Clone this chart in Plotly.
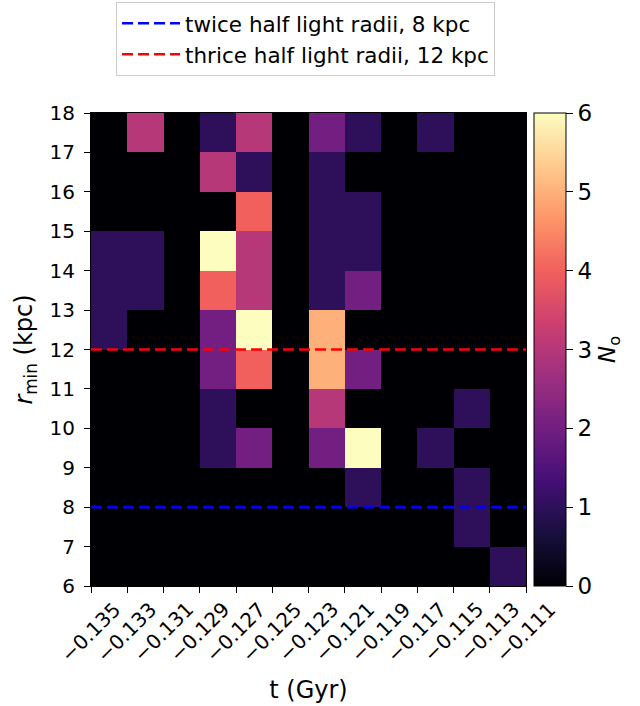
import plotly.graph_objects as go

# Bin edges of the 2D histogram
t_edges = [-0.135, -0.133, -0.131, -0.129, -0.127, -0.125, -0.123,
           -0.121, -0.119, -0.117, -0.115, -0.113, -0.111]
r_edges = [6, 7, 8, 9, 10, 11, 12, 13, 14, 15, 16, 17, 18]

# Tick labels for the time axis
t_ticklabels = ["−0.135", "−0.133", "−0.131", "−0.129", "−0.127", "−0.125",
                "−0.123", "−0.121", "−0.119", "−0.117", "−0.115", "−0.113",
                "−0.111"]
r_ticks = [6, 7, 8, 9, 10, 11, 12, 13, 14, 15, 16, 17, 18]
cbar_ticks = [0, 1, 2, 3, 4, 5, 6]

# Number of orbits per (t, r_min) bin; rows run from r_min = 6 upward
counts = [
    [0, 0, 0, 0, 0, 0, 0, 0, 0, 0, 0, 1],
    [0, 0, 0, 0, 0, 0, 0, 0, 0, 0, 1, 0],
    [0, 0, 0, 0, 0, 0, 0, 1, 0, 0, 1, 0],
    [0, 0, 0, 1, 2, 0, 2, 6, 0, 1, 0, 0],
    [0, 0, 0, 1, 0, 0, 3, 0, 0, 0, 1, 0],
    [0, 0, 0, 2, 4, 0, 5, 2, 0, 0, 0, 0],
    [1, 0, 0, 2, 6, 0, 5, 0, 0, 0, 0, 0],
    [1, 1, 0, 4, 3, 0, 1, 2, 0, 0, 0, 0],
    [1, 1, 0, 6, 3, 0, 1, 1, 0, 0, 0, 0],
    [0, 0, 0, 0, 4, 0, 1, 1, 0, 0, 0, 0],
    [0, 0, 0, 3, 1, 0, 1, 0, 0, 0, 0, 0],
    [0, 3, 0, 1, 3, 0, 2, 1, 0, 1, 0, 0],
]

# Reference radii
ref_lines = [
    ("twice half light radii, 8 kpc", 8, "blue"),
    ("thrice half light radii, 12 kpc", 12, "red"),
]

FONT = "DejaVu Sans"

fig = go.Figure()

fig.add_trace(go.Heatmap(
    x=t_edges, y=r_edges, z=counts,
    colorscale="Magma", zmin=0, zmax=6,
    showscale=True,
    colorbar=dict(
        title=dict(text="<i>N</i><sub>o</sub>", side="right",
                   font=dict(size=23, family=FONT, color="black")),
        tickvals=cbar_ticks,
        tickfont=dict(size=23, family=FONT, color="black"),
        ticks="outside", ticklen=7, tickwidth=1, tickcolor="black",
        outlinewidth=1, outlinecolor="black",
        thickness=32, thicknessmode="pixels",
        len=1, lenmode="fraction",
        x=1.0184, xanchor="left", xpad=0,
        y=0.5, yanchor="middle", ypad=0,
    ),
    hoverongaps=False,
))

for i, (name, r, color) in enumerate(ref_lines):
    fig.add_trace(go.Scatter(
        x=[t_edges[0], t_edges[-1]], y=[r, r],
        mode="lines", name=name,
        legendgroup=f"g{i}",
        line=dict(color=color, width=2.6, dash="11px,5px"),
    ))

# Rotated tick labels centred under each tick
for v, txt in zip(t_edges, t_ticklabels):
    fig.add_annotation(
        x=v, y=0, xref="x", yref="paper",
        text=txt, textangle=-45, showarrow=False,
        xanchor="center", yanchor="top", yshift=-9,
        font=dict(size=20, family=FONT, color="black"),
    )

fig.update_xaxes(
    range=[t_edges[0], t_edges[-1]],
    tickvals=t_edges, showticklabels=False,
    ticks="outside", ticklen=6, tickwidth=1, tickcolor="black",
    showline=True, linecolor="black", linewidth=1, mirror=True,
    showgrid=False, zeroline=False,
    title=dict(text="t (Gyr)", font=dict(size=24, family=FONT, color="black"),
               standoff=89),
)
fig.update_yaxes(
    range=[r_edges[0], r_edges[-1]],
    tickvals=r_ticks,
    tickfont=dict(size=20, family=FONT, color="black"),
    ticks="outside", ticklen=6, tickwidth=1, tickcolor="black",
    ticklabelstandoff=5,
    showline=True, linecolor="black", linewidth=1, mirror=True,
    showgrid=False, zeroline=False,
    title=dict(text="<i>r</i><sub>min</sub> (kpc)",
               font=dict(size=24, family=FONT, color="black"),
               standoff=10),
)

fig.update_layout(
    width=640, height=706,
    margin=dict(l=91, r=114, t=113, b=120, autoexpand=False),
    paper_bgcolor="white", plot_bgcolor="black",
    font=dict(family=FONT, color="black"),
    legend=dict(
        x=0.0575, y=1.235, xanchor="left", yanchor="top",
        bgcolor="white", bordercolor="#cccccc", borderwidth=1,
        font=dict(size=21.5, family=FONT, color="black"),
        tracegroupgap=0, itemwidth=58,
    ),
    showlegend=True,
)

fig.write_html("out.html")
